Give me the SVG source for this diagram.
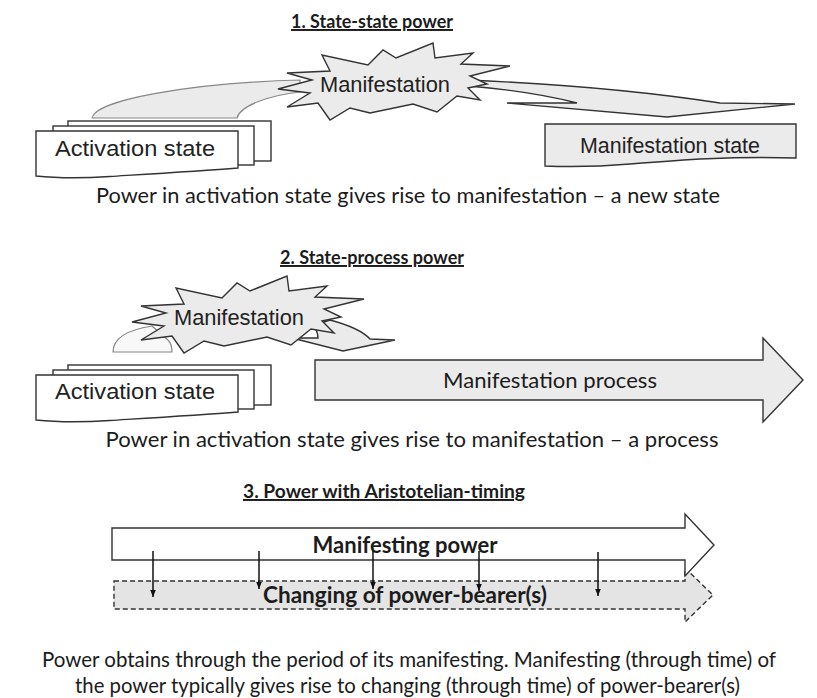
<svg xmlns="http://www.w3.org/2000/svg" width="817" height="698" viewBox="0 0 817 698">
<style>
.ln{stroke:#333;stroke-width:1.4;stroke-linejoin:miter}
.lt{stroke:#888;stroke-width:1.2}
.wh{fill:#fff}
.gr{fill:#ebebeb}
.dash{stroke-dasharray:5 3}
.cal{font-family:Lato,'Open Sans','Liberation Sans',sans-serif;fill:#1c1c1c}
.ttl{font-weight:bold;text-decoration:underline;font-size:19.5px}
.cap{font-size:21.5px}
.blk{font-weight:bold;font-size:22px}
.ari{font-family:'Liberation Sans',Arial,sans-serif;fill:#222}
.dn{stroke:#111;stroke-width:1.5;fill:none}
</style>
<defs>
<path id="star" d="M330,71 L322,55 L368,65 L383,50 L396,58 L433,43 L435,58 L473,53 L461,64 L510,66 L470,76 L487,84 L468,88 L480,100 L457,96 L437,112 L413,104 L370,113 L350,108 L330,120 L318,103 L287,107 L310,93 L278,89 L312,80 L287,73 Z"/>
<g id="stack">
<rect x="68" y="121" width="203" height="40"/>
<rect x="53" y="126" width="201" height="39"/>
<path d="M36,131 H238 V168 C200,171 150,174 110,176.5 C80,178.5 55,178 36,176 Z"/>
</g>
<marker id="ah" viewBox="0 0 10 10" refX="10" refY="5" markerWidth="7" markerHeight="7" markerUnits="userSpaceOnUse" orient="auto">
<path d="M0,1 L10,5 L0,9 Z" fill="#111"/>
</marker>
</defs>
<rect width="817" height="698" fill="#fff"/>

<g id="titles" class="cal ttl" text-anchor="middle">
<text x="372" y="28" textLength="162" lengthAdjust="spacingAndGlyphs">1. State-state power</text>
<text x="372" y="264" textLength="184" lengthAdjust="spacingAndGlyphs">2. State-process power</text>
<text x="384" y="498" textLength="282" lengthAdjust="spacingAndGlyphs">3. Power with Aristotelian-timing</text>
</g>

<g id="s3-changing">
<path class="ln dash" fill="#e4e4e4" d="M114,581 H685 V568 L713,595 L685,622 V609 H114 Z"/>
<text class="cal blk" x="405" y="603" text-anchor="middle" textLength="284" lengthAdjust="spacingAndGlyphs">Changing of power-bearer(s)</text>
</g>
<g id="s3-manifesting-power">
<path class="ln wh" d="M112,528 H685 V514 L714,545 L685,576 V560 H112 Z"/>
<text class="cal blk" x="405" y="553" text-anchor="middle" textLength="185" lengthAdjust="spacingAndGlyphs">Manifesting power</text>
</g>

<g id="connectors">
<path class="lt gr" d="M92,118 C95,100 190,83 300,80 L300,92 C272,95 240,105 237,118 Z"/>
<path class="ln gr" d="M467,80 Q610,86 720,103 L795,104 L667,117 L507,103 L577,103 Q530,91 468,86 Z"/>
<path class="lt" fill="#f8f8f8" d="M113,352 C113,338 126,330 152,326 L168,340 C172,344 172,348 172,352 Z"/>
<path class="ln gr" d="M330,320 Q360,328 370,339 L395,340 L343,351 L292,338 L318,338 Q318,330 312,326 Z"/>
<line class="dn" x1="153" y1="551" x2="153" y2="597" marker-end="url(#ah)"/>
<line class="dn" x1="259" y1="551" x2="259" y2="589" marker-end="url(#ah)"/>
<line class="dn" x1="373" y1="551" x2="373" y2="589" marker-end="url(#ah)"/>
<line class="dn" x1="479" y1="551" x2="479" y2="591" marker-end="url(#ah)"/>
<line class="dn" x1="598" y1="552" x2="598" y2="596" marker-end="url(#ah)"/>
</g>

<g id="s1-activation-state">
<use href="#stack" class="ln wh"/>
<text class="ari" x="55" y="156" font-size="22.5" textLength="160" lengthAdjust="spacingAndGlyphs">Activation state</text>
</g>
<g id="s1-manifestation">
<use href="#star" class="ln gr"/>
<text class="ari" x="320" y="92" font-size="22" textLength="130" lengthAdjust="spacingAndGlyphs">Manifestation</text>
</g>
<g id="s1-manifestation-state">
<path class="ln gr" d="M545,124 H796 V158 C730,156 680,160 630,164 C600,166.5 570,167 545,166 Z"/>
<text class="ari" x="580" y="153" font-size="21.5" textLength="180" lengthAdjust="spacingAndGlyphs">Manifestation state</text>
</g>
<text class="cal cap" x="408" y="203" text-anchor="middle" textLength="624" lengthAdjust="spacingAndGlyphs">Power in activation state gives rise to manifestation – a new state</text>

<g id="s2-activation-state">
<use href="#stack" class="ln wh" transform="translate(0,244)"/>
<text class="ari" x="55" y="399" font-size="22.5" textLength="160" lengthAdjust="spacingAndGlyphs">Activation state</text>
</g>
<g id="s2-manifestation">
<use href="#star" class="ln gr" transform="translate(-146,233)"/>
<text class="ari" x="174" y="325" font-size="22" textLength="130" lengthAdjust="spacingAndGlyphs">Manifestation</text>
</g>
<g id="s2-manifestation-process">
<path class="ln gr" d="M315,360 H763 V338 L803,380 L763,422 V400 H315 Z"/>
<text class="cal" font-size="22" x="550" y="388" text-anchor="middle" textLength="214" lengthAdjust="spacingAndGlyphs">Manifestation process</text>
</g>
<text class="cal cap" x="412" y="447" text-anchor="middle" textLength="613" lengthAdjust="spacingAndGlyphs">Power in activation state gives rise to manifestation – a process</text>

<g id="bottom-text" class="cal" font-size="20.5" text-anchor="middle">
<text x="409" y="667" textLength="734" lengthAdjust="spacingAndGlyphs">Power obtains through the period of its manifesting. Manifesting (through time) of</text>
<text x="407.5" y="693" textLength="665" lengthAdjust="spacingAndGlyphs">the power typically gives rise to changing (through time) of power-bearer(s)</text>
</g>
</svg>
